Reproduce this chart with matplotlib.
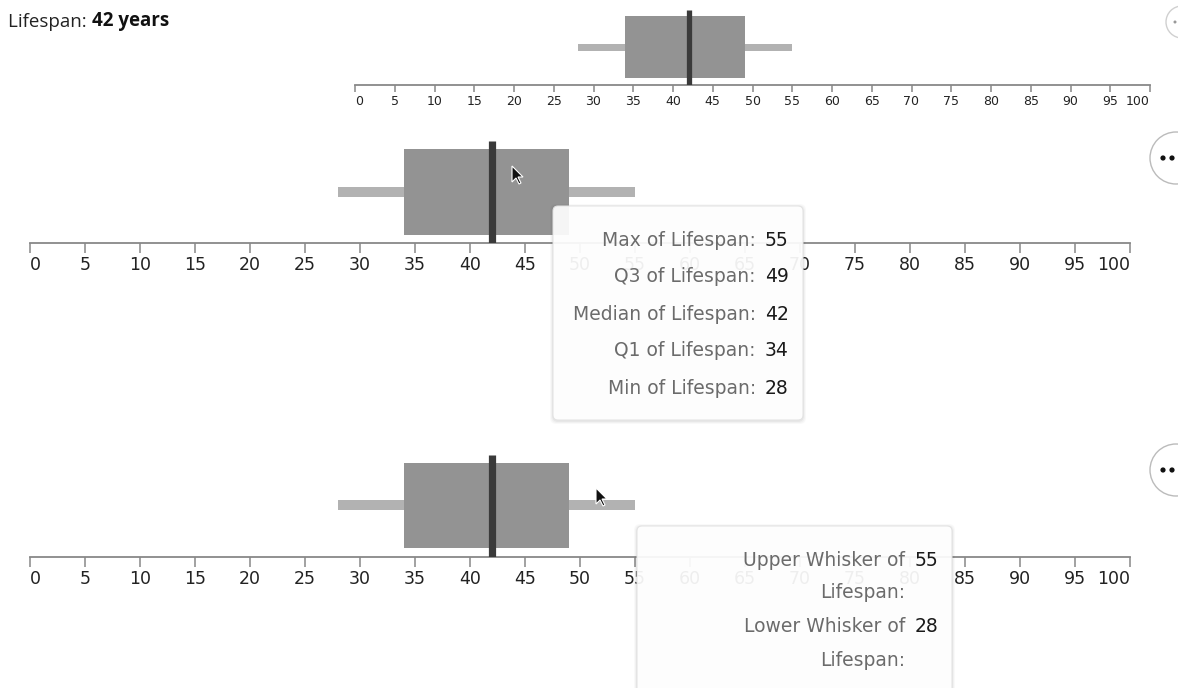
import textwrap
import matplotlib
matplotlib.use('Agg')
import matplotlib.pyplot as plt
from matplotlib.patches import FancyBboxPatch, Circle, Polygon

# data
measure = 'Lifespan'
unit = 'years'
stat_names = ['Max', 'Q3', 'Median', 'Q1', 'Min']
stat_values = [55, 49, 42, 34, 28]
whisker_names = ['Upper Whisker', 'Lower Whisker']
whisker_values = [55, 28]
tick_values = list(range(0, 101, 5))

vmax, q3, med, q1, vmin = stat_values

W, H = 1178, 688
fig = plt.figure(figsize=(W / 100, H / 100), dpi=100)


def box_panel(x0, x1, y_axis, top, box, whisk, med_w, fs, tick_len):
    # axes in pixel units: y = pixels above the axis line
    ax = fig.add_axes([x0 / W, 1 - y_axis / H, (x1 - x0) / W, (y_axis - top) / H])
    ax.barh((box[0] + box[1]) / 2, q3 - q1, left=q1, height=box[1] - box[0],
            color='#939393', zorder=2)
    wy, wh = (whisk[0] + whisk[1]) / 2, whisk[1] - whisk[0]
    ax.barh(wy, q1 - vmin, left=vmin, height=wh, color='#b2b2b2', zorder=1)
    ax.barh(wy, vmax - q3, left=q3, height=wh, color='#b2b2b2', zorder=1)
    ax.vlines(med, 0, y_axis - top, colors='#3a3a3a', linewidth=med_w, zorder=3)
    ax.set_xlim(0, 100)
    ax.set_ylim(0, y_axis - top)
    for s in ['top', 'left', 'right']:
        ax.spines[s].set_visible(False)
    ax.spines['bottom'].set_color('#888888')
    ax.spines['bottom'].set_linewidth(1.3)
    ax.patch.set_alpha(0)
    ax.set_yticks([])
    ax.set_xticks(tick_values)
    ax.set_xticklabels([str(t) for t in tick_values])
    ax.tick_params(axis='x', length=tick_len, width=1.1, color='#888888',
                   labelsize=fs, labelcolor='#222222', pad=2)
    lbls = ax.get_xticklabels()
    lbls[0].set_ha('left')
    lbls[-1].set_ha('right')
    return ax


box_panel(355, 1150, 85, 10, (7, 69), (34, 41), 3.8, 9, 5)
box_panel(30, 1130, 243, 141, (8, 94), (46, 56), 5.2, 12.5, 7)
box_panel(30, 1130, 557, 455, (9, 94), (47, 57), 5.2, 12.5, 7)

# overlay in pixel coordinates for title, tooltips and controls
ov = fig.add_axes([0, 0, 1, 1], zorder=10)
ov.set_xlim(0, W)
ov.set_ylim(H, 0)
ov.axis('off')
ov.patch.set_alpha(0)

t1 = ov.text(8, 22, f'{measure}: ', va='center', ha='left', fontsize=13.5,
             color='#222222', family='Open Sans')
ov.annotate(f'{med} {unit}', xy=(1, 0), xycoords=t1, va='bottom', ha='left',
            fontsize=13.5, fontweight='bold', color='#111111', family='Open Sans')


def tooltip(x, y, w, h):
    for k, a in [(3, 0.025), (2, 0.03), (1, 0.04)]:
        ov.add_patch(FancyBboxPatch((x - k, y - k + 1), w + 2 * k, h + 2 * k,
                                    boxstyle='round,pad=0,rounding_size=6',
                                    fc='black', ec='none', alpha=a))
    ov.add_patch(FancyBboxPatch((x, y), w, h, boxstyle='round,pad=0,rounding_size=5',
                                fc='white', ec='#e2e2e2', lw=0.8, alpha=0.93))


tooltip(553, 206, 250, 214)
for i, (n, v) in enumerate(zip(stat_names, stat_values)):
    y = 240 + 37 * i
    ov.text(756, y, f'{n} of {measure}:', ha='right', va='center', fontsize=13.5,
            color='#6b6b6b')
    ov.text(765, y, str(v), ha='left', va='center', fontsize=13.5, color='#1a1a1a')

tooltip(637, 526, 315, 200)
for i, (n, v) in enumerate(zip(whisker_names, whisker_values)):
    y = 560 + 67 * i
    for j, line in enumerate(textwrap.wrap(f'{n} of {measure}:', 16)):
        ov.text(905, y + 33 * j, line, ha='right', va='center', fontsize=13.5,
                color='#6b6b6b')
    ov.text(915, y, str(v), ha='left', va='center', fontsize=13.5, color='#1a1a1a')

# "more" buttons at the right edge
ov.add_patch(Circle((1182, 22), 16, fc='white', ec='#d0d0d0', lw=1))
ov.add_patch(Circle((1175, 22), 1.5, fc='#999999', ec='none'))
for cy in [158, 470]:
    ov.add_patch(Circle((1176, cy), 26, fc='white', ec='#bbbbbb', lw=1))
    ov.add_patch(Circle((1163, cy), 2.6, fc='#111111', ec='none'))
    ov.add_patch(Circle((1172, cy), 2.6, fc='#111111', ec='none'))

# mouse pointers
arrow = [(0, 0), (0, 16), (4, 12), (7, 18), (9, 17), (6, 11), (11, 11)]
for cx, cy in [(512, 166), (596, 488)]:
    ov.add_patch(Polygon([(cx + a, cy + b) for a, b in arrow], closed=True,
                         fc='#111111', ec='white', lw=0.8))

fig.savefig('out.png', dpi=100)
